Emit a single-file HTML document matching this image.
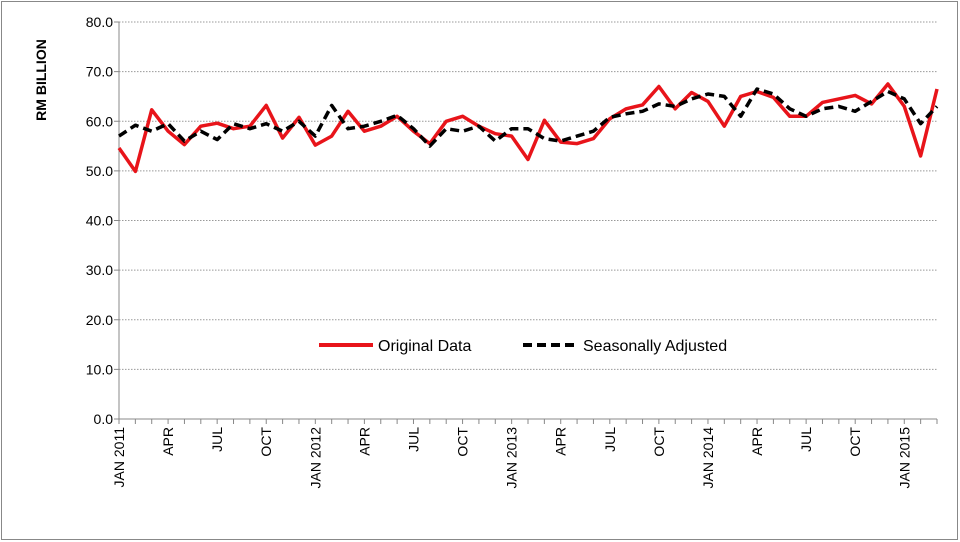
<!DOCTYPE html>
<html><head><meta charset="utf-8"><style>
html,body{margin:0;padding:0;background:#fff;}
svg{display:block;font-family:"Liberation Sans",sans-serif;}
</style></head><body>
<svg id="chart" width="960" height="542" viewBox="0 0 960 542">
<rect x="1.5" y="1.5" width="956" height="538" fill="#fff" stroke="#888" stroke-width="1"/>
<text transform="translate(46,80) rotate(-90)" text-anchor="middle" font-size="14" font-weight="bold">RM BILLION</text>
<g id="grid"></g><g id="axes"></g><g id="series"></g>
<g>
<line x1="319" y1="345" x2="373" y2="345" stroke="#e8141a" stroke-width="4"/>
<text x="378" y="351" font-size="16">Original Data</text>
<line x1="523" y1="345" x2="577" y2="345" stroke="#000" stroke-width="4" stroke-dasharray="9,5"/>
<text x="583" y="351" font-size="16">Seasonally Adjusted</text>
</g>
</svg>
<script>
const months=["JAN 2011","FEB","MAR","APR","MAY","JUN","JUL","AUG","SEP","OCT","NOV","DEC","JAN 2012","FEB","MAR","APR","MAY","JUN","JUL","AUG","SEP","OCT","NOV","DEC","JAN 2013","FEB","MAR","APR","MAY","JUN","JUL","AUG","SEP","OCT","NOV","DEC","JAN 2014","FEB","MAR","APR","MAY","JUN","JUL","AUG","SEP","OCT","NOV","DEC","JAN 2015","FEB","MAR"];
const originalData=[54.6,49.9,62.3,58,55.3,59,59.6,58.5,59,63.2,56.6,60.8,55.2,57,62,58,59,61,58,55.5,60,61,59,57.5,57,52.3,60.2,55.8,55.5,56.5,60.5,62.5,63.3,67,62.5,65.8,64,59,65,66,64.8,61,61,63.8,64.5,65.2,63.5,67.5,63,53,66.5];
const seasonallyAdjusted=[57,59.2,58,59.5,56,58,56.3,59.5,58.5,59.5,58,60,57,63.2,58.5,59,60,61.2,58.5,55,58.5,58,59,56,58.5,58.5,56.5,56,57,58,60.8,61.5,62,63.5,63,64.5,65.5,65,61,66.5,65.5,62.5,61,62.5,63,62,64,66,64.5,59.5,63];
const yTicks=[0,10,20,30,40,50,60,70,80];
const NS="http://www.w3.org/2000/svg";
const X0=119,X1=937,Y0=419,Y1=22;
const xs=i=>X0+(X1-X0)*i/(months.length-1);
const ys=v=>Y0-(Y0-Y1)*v/80;
function mk(tag,attrs,parent){const e=document.createElementNS(NS,tag);for(const k in attrs)e.setAttribute(k,attrs[k]);parent.appendChild(e);return e;}
const grid=document.getElementById('grid'),axes=document.getElementById('axes'),series=document.getElementById('series');
yTicks.forEach(t=>{
  if(t>0){const g=mk('line',{x1:X0,x2:X1,y1:ys(t),y2:ys(t),stroke:'#999','stroke-dasharray':'1.5,1.5'},grid);
  
  }
  const tk=mk('line',{x1:X0-5,x2:X0,y1:ys(t),y2:ys(t),stroke:'#888'},axes);
  
  
  const tx=mk('text',{x:X0-6,y:ys(t)+5,'text-anchor':'end','font-size':'14'},axes);
  tx.textContent=t.toFixed(1);
  
  
});
const ya=mk('line',{x1:X0,x2:X0,y1:Y1,y2:Y0,stroke:'#888'},axes);


const xa=mk('line',{x1:X0,x2:X1,y1:Y0,y2:Y0,stroke:'#888'},axes);


months.forEach((m,i)=>{
  const tk=mk('line',{x1:xs(i),x2:xs(i),y1:Y0,y2:Y0+5,stroke:'#888'},axes);
  
  
  if(i%3===0){
    const tx=mk('text',{transform:`translate(${xs(i)+5},${Y0+8}) rotate(-90)`,'text-anchor':'end','font-size':'14'},axes);
    tx.textContent=m;
    
    
  }
});
const pts=a=>a.map((v,i)=>xs(i).toFixed(1)+','+ys(v).toFixed(1)).join(' ');
const sa=mk('polyline',{points:pts(seasonallyAdjusted),fill:'none',stroke:'#000','stroke-width':3.5,'stroke-dasharray':'9,5','stroke-linejoin':'round'},series);


const od=mk('polyline',{points:pts(originalData),fill:'none',stroke:'#e8141a','stroke-width':3.5,'stroke-linejoin':'round'},series);


series.insertBefore(od,sa);
</script>
</body></html>
